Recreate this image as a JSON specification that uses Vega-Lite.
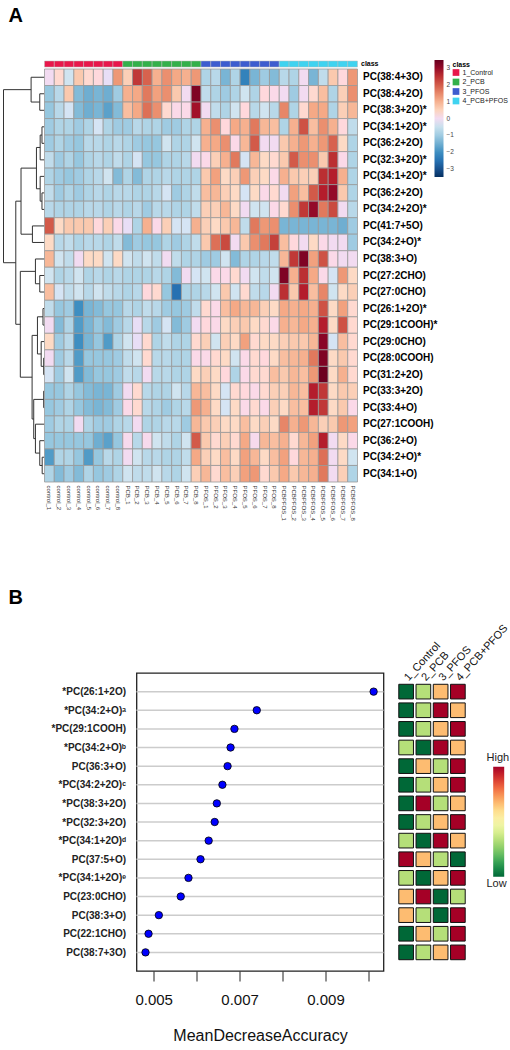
{
"$schema": "https://vega.github.io/schema/vega-lite/v6.json",
"background": "white",
"padding": {"left": 2.5, "top": 6, "right": 0, "bottom": 0},
"config": {"font": "Liberation Sans", "view": {"stroke": null}},
"bounds": "flush",
"spacing": 612,
"resolve": {"scale": {"color": "independent"}, "legend": {"color": "independent"}},
"datasets": {
"dendro": [
{"h1":4.7,"h2":4.7,"y1":1,"y2":2},{"h1":0,"h2":4.7,"y1":1,"y2":1},{"h1":0,"h2":4.7,"y1":2,"y2":2},
{"h1":13.3,"h2":13.3,"y1":0,"y2":1.5},{"h1":0,"h2":13.3,"y1":0,"y2":0},{"h1":4.7,"h2":13.3,"y1":1.5,"y2":1.5},
{"h1":2.5,"h2":2.5,"y1":3,"y2":4},{"h1":0,"h2":2.5,"y1":3,"y2":3},{"h1":0,"h2":2.5,"y1":4,"y2":4},
{"h1":4.3,"h2":4.3,"y1":3.5,"y2":5},{"h1":2.5,"h2":4.3,"y1":3.5,"y2":3.5},{"h1":0,"h2":4.3,"y1":5,"y2":5},
{"h1":2.5,"h2":2.5,"y1":7,"y2":8},{"h1":0,"h2":2.5,"y1":7,"y2":7},{"h1":0,"h2":2.5,"y1":8,"y2":8},
{"h1":4.3,"h2":4.3,"y1":6,"y2":7.5},{"h1":0,"h2":4.3,"y1":6,"y2":6},{"h1":2.5,"h2":4.3,"y1":7.5,"y2":7.5},
{"h1":8,"h2":8,"y1":4.25,"y2":6.75},{"h1":4.3,"h2":8,"y1":4.25,"y2":4.25},{"h1":4.3,"h2":8,"y1":6.75,"y2":6.75},
{"h1":12,"h2":12,"y1":9,"y2":10},{"h1":0,"h2":12,"y1":9,"y2":9},{"h1":0,"h2":12,"y1":10,"y2":10},
{"h1":23.3,"h2":23.3,"y1":5.5,"y2":9.5},{"h1":8,"h2":23.3,"y1":5.5,"y2":5.5},{"h1":12,"h2":23.3,"y1":9.5,"y2":9.5},
{"h1":4.7,"h2":4.7,"y1":12,"y2":13},{"h1":0,"h2":4.7,"y1":12,"y2":12},{"h1":0,"h2":4.7,"y1":13,"y2":13},
{"h1":9,"h2":9,"y1":11,"y2":12.5},{"h1":0,"h2":9,"y1":11,"y2":11},{"h1":4.7,"h2":9,"y1":12.5,"y2":12.5},
{"h1":1.5,"h2":1.5,"y1":14,"y2":15},{"h1":0,"h2":1.5,"y1":14,"y2":14},{"h1":0,"h2":1.5,"y1":15,"y2":15},
{"h1":0.8,"h2":0.8,"y1":17,"y2":18},{"h1":0,"h2":0.8,"y1":17,"y2":17},{"h1":0,"h2":0.8,"y1":18,"y2":18},
{"h1":3.3,"h2":3.3,"y1":16,"y2":17.5},{"h1":0,"h2":3.3,"y1":16,"y2":16},{"h1":0.8,"h2":3.3,"y1":17.5,"y2":17.5},
{"h1":7,"h2":7,"y1":14.5,"y2":16.75},{"h1":1.5,"h2":7,"y1":14.5,"y2":14.5},{"h1":3.3,"h2":7,"y1":16.75,"y2":16.75},
{"h1":0.8,"h2":0.8,"y1":19,"y2":20},{"h1":0,"h2":0.8,"y1":19,"y2":19},{"h1":0,"h2":0.8,"y1":20,"y2":20},
{"h1":2.3,"h2":2.3,"y1":23,"y2":24},{"h1":0,"h2":2.3,"y1":23,"y2":23},{"h1":0,"h2":2.3,"y1":24,"y2":24},
{"h1":4.7,"h2":4.7,"y1":22,"y2":23.5},{"h1":0,"h2":4.7,"y1":22,"y2":22},{"h1":2.3,"h2":4.7,"y1":23.5,"y2":23.5},
{"h1":9,"h2":9,"y1":21,"y2":22.75},{"h1":0,"h2":9,"y1":21,"y2":21},{"h1":4.7,"h2":9,"y1":22.75,"y2":22.75},
{"h1":10.7,"h2":10.7,"y1":19.5,"y2":21.875},{"h1":0.8,"h2":10.7,"y1":19.5,"y2":19.5},{"h1":9,"h2":10.7,"y1":21.875,"y2":21.875},
{"h1":12.3,"h2":12.3,"y1":15.625,"y2":20.6875},{"h1":7,"h2":12.3,"y1":15.625,"y2":15.625},{"h1":10.7,"h2":12.3,"y1":20.6875,"y2":20.6875},
{"h1":24,"h2":24,"y1":11.75,"y2":18.156},{"h1":9,"h2":24,"y1":11.75,"y2":11.75},{"h1":12.3,"h2":24,"y1":18.156,"y2":18.156},
{"h1":28.5,"h2":28.5,"y1":7.5,"y2":14.953},{"h1":23.3,"h2":28.5,"y1":7.5,"y2":7.5},{"h1":24,"h2":28.5,"y1":14.953,"y2":14.953},
{"h1":40.7,"h2":40.7,"y1":0.75,"y2":11.227},{"h1":13.3,"h2":40.7,"y1":0.75,"y2":0.75},{"h1":28.5,"h2":40.7,"y1":11.227,"y2":11.227}
],
"cls": [
{"s":"control_1","c":"1_Control","k":"class"},{"s":"control_2","c":"1_Control","k":"class"},{"s":"control_3","c":"1_Control","k":"class"},{"s":"control_4","c":"1_Control","k":"class"},{"s":"control_5","c":"1_Control","k":"class"},{"s":"control_6","c":"1_Control","k":"class"},{"s":"control_7","c":"1_Control","k":"class"},{"s":"control_8","c":"1_Control","k":"class"},
{"s":"PCB_1","c":"2_PCB","k":"class"},{"s":"PCB_2","c":"2_PCB","k":"class"},{"s":"PCB_3","c":"2_PCB","k":"class"},{"s":"PCB_4","c":"2_PCB","k":"class"},{"s":"PCB_5","c":"2_PCB","k":"class"},{"s":"PCB_6","c":"2_PCB","k":"class"},{"s":"PCB_7","c":"2_PCB","k":"class"},{"s":"PCB_8","c":"2_PCB","k":"class"},
{"s":"PFOS_1","c":"3_PFOS","k":"class"},{"s":"PFOS_2","c":"3_PFOS","k":"class"},{"s":"PFOS_3","c":"3_PFOS","k":"class"},{"s":"PFOS_4","c":"3_PFOS","k":"class"},{"s":"PFOS_5","c":"3_PFOS","k":"class"},{"s":"PFOS_6","c":"3_PFOS","k":"class"},{"s":"PFOS_7","c":"3_PFOS","k":"class"},{"s":"PFOS_8","c":"3_PFOS","k":"class"},
{"s":"PCBPFOS_1","c":"4_PCB+PFOS","k":"class"},{"s":"PCBPFOS_2","c":"4_PCB+PFOS","k":"class"},{"s":"PCBPFOS_3","c":"4_PCB+PFOS","k":"class"},{"s":"PCBPFOS_4","c":"4_PCB+PFOS","k":"class"},{"s":"PCBPFOS_5","c":"4_PCB+PFOS","k":"class"},{"s":"PCBPFOS_6","c":"4_PCB+PFOS","k":"class"},{"s":"PCBPFOS_7","c":"4_PCB+PFOS","k":"class"},{"s":"PCBPFOS_8","c":"4_PCB+PFOS","k":"class"}
],
"hm": [
{"r":0,"s":"control_1","v":0},{"r":0,"s":"control_2","v":0.3},{"r":0,"s":"control_3","v":-0.4},{"r":0,"s":"control_4","v":0.65},{"r":0,"s":"control_5","v":0.3},{"r":0,"s":"control_6","v":0.2},{"r":0,"s":"control_7","v":-0.1},{"r":0,"s":"control_8","v":1.3},{"r":0,"s":"PCB_1","v":0.55},{"r":0,"s":"PCB_2","v":2.4},{"r":0,"s":"PCB_3","v":1.9},{"r":0,"s":"PCB_4","v":1.0},{"r":0,"s":"PCB_5","v":1.4},{"r":0,"s":"PCB_6","v":1.1},{"r":0,"s":"PCB_7","v":1.0},{"r":0,"s":"PCB_8","v":1.3},{"r":0,"s":"PFOS_1","v":-0.8},{"r":0,"s":"PFOS_2","v":-0.7},{"r":0,"s":"PFOS_3","v":-1.4},{"r":0,"s":"PFOS_4","v":-0.8},{"r":0,"s":"PFOS_5","v":-2.2},{"r":0,"s":"PFOS_6","v":-1.4},{"r":0,"s":"PFOS_7","v":-1.0},{"r":0,"s":"PFOS_8","v":-1.3},{"r":0,"s":"PCBPFOS_1","v":-0.7},{"r":0,"s":"PCBPFOS_2","v":-0.8},{"r":0,"s":"PCBPFOS_3","v":0},{"r":0,"s":"PCBPFOS_4","v":-1.4},{"r":0,"s":"PCBPFOS_5","v":-0.6},{"r":0,"s":"PCBPFOS_6","v":0.65},{"r":0,"s":"PCBPFOS_7","v":0.2},{"r":0,"s":"PCBPFOS_8","v":1.3},
{"r":1,"s":"control_1","v":-1.1},{"r":1,"s":"control_2","v":-0.7},{"r":1,"s":"control_3","v":0.65},{"r":1,"s":"control_4","v":-1.3},{"r":1,"s":"control_5","v":-1.5},{"r":1,"s":"control_6","v":-1.4},{"r":1,"s":"control_7","v":-1.5},{"r":1,"s":"control_8","v":-1.0},{"r":1,"s":"PCB_1","v":1.0},{"r":1,"s":"PCB_2","v":1.1},{"r":1,"s":"PCB_3","v":1.65},{"r":1,"s":"PCB_4","v":1.2},{"r":1,"s":"PCB_5","v":1.4},{"r":1,"s":"PCB_6","v":0.65},{"r":1,"s":"PCB_7","v":0},{"r":1,"s":"PCB_8","v":3.2},{"r":1,"s":"PFOS_1","v":-0.6},{"r":1,"s":"PFOS_2","v":-0.8},{"r":1,"s":"PFOS_3","v":-1.0},{"r":1,"s":"PFOS_4","v":-0.8},{"r":1,"s":"PFOS_5","v":-0.4},{"r":1,"s":"PFOS_6","v":-0.8},{"r":1,"s":"PFOS_7","v":0.2},{"r":1,"s":"PFOS_8","v":0.1},{"r":1,"s":"PCBPFOS_1","v":0},{"r":1,"s":"PCBPFOS_2","v":-1.0},{"r":1,"s":"PCBPFOS_3","v":0},{"r":1,"s":"PCBPFOS_4","v":0.3},{"r":1,"s":"PCBPFOS_5","v":0.8},{"r":1,"s":"PCBPFOS_6","v":-0.8},{"r":1,"s":"PCBPFOS_7","v":0.55},{"r":1,"s":"PCBPFOS_8","v":1.4},
{"r":2,"s":"control_1","v":-1.1},{"r":2,"s":"control_2","v":-0.7},{"r":2,"s":"control_3","v":-0.3},{"r":2,"s":"control_4","v":-1.3},{"r":2,"s":"control_5","v":-1.5},{"r":2,"s":"control_6","v":-1.4},{"r":2,"s":"control_7","v":-1.7},{"r":2,"s":"control_8","v":-1.3},{"r":2,"s":"PCB_1","v":0.8},{"r":2,"s":"PCB_2","v":1.1},{"r":2,"s":"PCB_3","v":1.75},{"r":2,"s":"PCB_4","v":1.4},{"r":2,"s":"PCB_5","v":0.3},{"r":2,"s":"PCB_6","v":0.1},{"r":2,"s":"PCB_7","v":0.1},{"r":2,"s":"PCB_8","v":2.85},{"r":2,"s":"PFOS_1","v":0},{"r":2,"s":"PFOS_2","v":-0.6},{"r":2,"s":"PFOS_3","v":-0.8},{"r":2,"s":"PFOS_4","v":-0.4},{"r":2,"s":"PFOS_5","v":0.2},{"r":2,"s":"PFOS_6","v":-0.7},{"r":2,"s":"PFOS_7","v":-0.4},{"r":2,"s":"PFOS_8","v":-0.7},{"r":2,"s":"PCBPFOS_1","v":1.5},{"r":2,"s":"PCBPFOS_2","v":-0.8},{"r":2,"s":"PCBPFOS_3","v":0.3},{"r":2,"s":"PCBPFOS_4","v":1.1},{"r":2,"s":"PCBPFOS_5","v":1.1},{"r":2,"s":"PCBPFOS_6","v":-0.8},{"r":2,"s":"PCBPFOS_7","v":0.55},{"r":2,"s":"PCBPFOS_8","v":0.9},
{"r":3,"s":"control_1","v":-1.0},{"r":3,"s":"control_2","v":-0.8},{"r":3,"s":"control_3","v":-0.8},{"r":3,"s":"control_4","v":-1.0},{"r":3,"s":"control_5","v":-0.8},{"r":3,"s":"control_6","v":-0.3},{"r":3,"s":"control_7","v":-0.8},{"r":3,"s":"control_8","v":-1.0},{"r":3,"s":"PCB_1","v":-1.0},{"r":3,"s":"PCB_2","v":-0.7},{"r":3,"s":"PCB_3","v":-0.8},{"r":3,"s":"PCB_4","v":-0.8},{"r":3,"s":"PCB_5","v":-1.0},{"r":3,"s":"PCB_6","v":-1.0},{"r":3,"s":"PCB_7","v":-0.8},{"r":3,"s":"PCB_8","v":-0.8},{"r":3,"s":"PFOS_1","v":1.0},{"r":3,"s":"PFOS_2","v":1.4},{"r":3,"s":"PFOS_3","v":0.2},{"r":3,"s":"PFOS_4","v":1.1},{"r":3,"s":"PFOS_5","v":1.0},{"r":3,"s":"PFOS_6","v":1.65},{"r":3,"s":"PFOS_7","v":0.9},{"r":3,"s":"PFOS_8","v":0.8},{"r":3,"s":"PCBPFOS_1","v":-0.8},{"r":3,"s":"PCBPFOS_2","v":1.0},{"r":3,"s":"PCBPFOS_3","v":2.1},{"r":3,"s":"PCBPFOS_4","v":0.8},{"r":3,"s":"PCBPFOS_5","v":1.4},{"r":3,"s":"PCBPFOS_6","v":1.0},{"r":3,"s":"PCBPFOS_7","v":0.2},{"r":3,"s":"PCBPFOS_8","v":-0.6},
{"r":4,"s":"control_1","v":-1.0},{"r":4,"s":"control_2","v":-0.8},{"r":4,"s":"control_3","v":-1.0},{"r":4,"s":"control_4","v":-1.1},{"r":4,"s":"control_5","v":-0.7},{"r":4,"s":"control_6","v":-0.7},{"r":4,"s":"control_7","v":-0.8},{"r":4,"s":"control_8","v":-0.7},{"r":4,"s":"PCB_1","v":-0.8},{"r":4,"s":"PCB_2","v":-1.0},{"r":4,"s":"PCB_3","v":-1.1},{"r":4,"s":"PCB_4","v":-1.1},{"r":4,"s":"PCB_5","v":-0.4},{"r":4,"s":"PCB_6","v":-0.8},{"r":4,"s":"PCB_7","v":-0.8},{"r":4,"s":"PCB_8","v":-0.4},{"r":4,"s":"PFOS_1","v":1.0},{"r":4,"s":"PFOS_2","v":1.1},{"r":4,"s":"PFOS_3","v":1.4},{"r":4,"s":"PFOS_4","v":0.1},{"r":4,"s":"PFOS_5","v":0.9},{"r":4,"s":"PFOS_6","v":2.0},{"r":4,"s":"PFOS_7","v":0},{"r":4,"s":"PFOS_8","v":0},{"r":4,"s":"PCBPFOS_1","v":0.65},{"r":4,"s":"PCBPFOS_2","v":1.0},{"r":4,"s":"PCBPFOS_3","v":1.3},{"r":4,"s":"PCBPFOS_4","v":1.0},{"r":4,"s":"PCBPFOS_5","v":1.3},{"r":4,"s":"PCBPFOS_6","v":1.9},{"r":4,"s":"PCBPFOS_7","v":0.4},{"r":4,"s":"PCBPFOS_8","v":-0.8},
{"r":5,"s":"control_1","v":-0.6},{"r":5,"s":"control_2","v":-1.0},{"r":5,"s":"control_3","v":-0.8},{"r":5,"s":"control_4","v":-1.1},{"r":5,"s":"control_5","v":-0.8},{"r":5,"s":"control_6","v":-0.7},{"r":5,"s":"control_7","v":-0.8},{"r":5,"s":"control_8","v":-0.6},{"r":5,"s":"PCB_1","v":-0.8},{"r":5,"s":"PCB_2","v":-0.3},{"r":5,"s":"PCB_3","v":-1.1},{"r":5,"s":"PCB_4","v":-1.1},{"r":5,"s":"PCB_5","v":-0.8},{"r":5,"s":"PCB_6","v":-0.8},{"r":5,"s":"PCB_7","v":-0.7},{"r":5,"s":"PCB_8","v":0},{"r":5,"s":"PFOS_1","v":0.1},{"r":5,"s":"PFOS_2","v":0.55},{"r":5,"s":"PFOS_3","v":1.0},{"r":5,"s":"PFOS_4","v":1.65},{"r":5,"s":"PFOS_5","v":-0.3},{"r":5,"s":"PFOS_6","v":0.9},{"r":5,"s":"PFOS_7","v":0.4},{"r":5,"s":"PFOS_8","v":0.3},{"r":5,"s":"PCBPFOS_1","v":0.65},{"r":5,"s":"PCBPFOS_2","v":2.0},{"r":5,"s":"PCBPFOS_3","v":1.4},{"r":5,"s":"PCBPFOS_4","v":1.4},{"r":5,"s":"PCBPFOS_5","v":0.65},{"r":5,"s":"PCBPFOS_6","v":2.5},{"r":5,"s":"PCBPFOS_7","v":0.1},{"r":5,"s":"PCBPFOS_8","v":-0.8},
{"r":6,"s":"control_1","v":-0.8},{"r":6,"s":"control_2","v":-1.0},{"r":6,"s":"control_3","v":-1.1},{"r":6,"s":"control_4","v":-1.0},{"r":6,"s":"control_5","v":-0.8},{"r":6,"s":"control_6","v":-0.7},{"r":6,"s":"control_7","v":-0.4},{"r":6,"s":"control_8","v":-1.3},{"r":6,"s":"PCB_1","v":-0.8},{"r":6,"s":"PCB_2","v":-1.3},{"r":6,"s":"PCB_3","v":-0.8},{"r":6,"s":"PCB_4","v":-0.8},{"r":6,"s":"PCB_5","v":-0.7},{"r":6,"s":"PCB_6","v":-0.8},{"r":6,"s":"PCB_7","v":-0.8},{"r":6,"s":"PCB_8","v":-0.8},{"r":6,"s":"PFOS_1","v":0.65},{"r":6,"s":"PFOS_2","v":1.2},{"r":6,"s":"PFOS_3","v":0.4},{"r":6,"s":"PFOS_4","v":0.55},{"r":6,"s":"PFOS_5","v":1.3},{"r":6,"s":"PFOS_6","v":0.55},{"r":6,"s":"PFOS_7","v":0.4},{"r":6,"s":"PFOS_8","v":0.1},{"r":6,"s":"PCBPFOS_1","v":1.0},{"r":6,"s":"PCBPFOS_2","v":0.65},{"r":6,"s":"PCBPFOS_3","v":0.55},{"r":6,"s":"PCBPFOS_4","v":0.55},{"r":6,"s":"PCBPFOS_5","v":2.5},{"r":6,"s":"PCBPFOS_6","v":2.65},{"r":6,"s":"PCBPFOS_7","v":1.0},{"r":6,"s":"PCBPFOS_8","v":-0.8},
{"r":7,"s":"control_1","v":-0.6},{"r":7,"s":"control_2","v":-1.0},{"r":7,"s":"control_3","v":-0.8},{"r":7,"s":"control_4","v":-1.0},{"r":7,"s":"control_5","v":-0.8},{"r":7,"s":"control_6","v":-0.7},{"r":7,"s":"control_7","v":-0.8},{"r":7,"s":"control_8","v":-0.7},{"r":7,"s":"PCB_1","v":-0.7},{"r":7,"s":"PCB_2","v":-0.8},{"r":7,"s":"PCB_3","v":-0.8},{"r":7,"s":"PCB_4","v":-0.7},{"r":7,"s":"PCB_5","v":-0.3},{"r":7,"s":"PCB_6","v":-1.0},{"r":7,"s":"PCB_7","v":-0.8},{"r":7,"s":"PCB_8","v":-0.6},{"r":7,"s":"PFOS_1","v":0.8},{"r":7,"s":"PFOS_2","v":0.9},{"r":7,"s":"PFOS_3","v":0.55},{"r":7,"s":"PFOS_4","v":0.4},{"r":7,"s":"PFOS_5","v":-0.3},{"r":7,"s":"PFOS_6","v":0.4},{"r":7,"s":"PFOS_7","v":0.1},{"r":7,"s":"PFOS_8","v":0.3},{"r":7,"s":"PCBPFOS_1","v":0},{"r":7,"s":"PCBPFOS_2","v":1.2},{"r":7,"s":"PCBPFOS_3","v":0.8},{"r":7,"s":"PCBPFOS_4","v":2.0},{"r":7,"s":"PCBPFOS_5","v":2.65},{"r":7,"s":"PCBPFOS_6","v":3.0},{"r":7,"s":"PCBPFOS_7","v":0.65},{"r":7,"s":"PCBPFOS_8","v":-0.8},
{"r":8,"s":"control_1","v":-0.7},{"r":8,"s":"control_2","v":-0.8},{"r":8,"s":"control_3","v":-0.8},{"r":8,"s":"control_4","v":-0.8},{"r":8,"s":"control_5","v":-0.7},{"r":8,"s":"control_6","v":-0.7},{"r":8,"s":"control_7","v":-0.8},{"r":8,"s":"control_8","v":-0.7},{"r":8,"s":"PCB_1","v":-0.8},{"r":8,"s":"PCB_2","v":-0.7},{"r":8,"s":"PCB_3","v":-1.0},{"r":8,"s":"PCB_4","v":-0.7},{"r":8,"s":"PCB_5","v":-0.7},{"r":8,"s":"PCB_6","v":-0.8},{"r":8,"s":"PCB_7","v":-0.8},{"r":8,"s":"PCB_8","v":-0.6},{"r":8,"s":"PFOS_1","v":0.55},{"r":8,"s":"PFOS_2","v":0.55},{"r":8,"s":"PFOS_3","v":0.9},{"r":8,"s":"PFOS_4","v":0.4},{"r":8,"s":"PFOS_5","v":0},{"r":8,"s":"PFOS_6","v":-0.4},{"r":8,"s":"PFOS_7","v":-0.4},{"r":8,"s":"PFOS_8","v":0.1},{"r":8,"s":"PCBPFOS_1","v":0.3},{"r":8,"s":"PCBPFOS_2","v":1.4},{"r":8,"s":"PCBPFOS_3","v":2.4},{"r":8,"s":"PCBPFOS_4","v":3.0},{"r":8,"s":"PCBPFOS_5","v":1.65},{"r":8,"s":"PCBPFOS_6","v":2.2},{"r":8,"s":"PCBPFOS_7","v":0},{"r":8,"s":"PCBPFOS_8","v":-0.7},
{"r":9,"s":"control_1","v":2.0},{"r":9,"s":"control_2","v":0.4},{"r":9,"s":"control_3","v":0.65},{"r":9,"s":"control_4","v":0.65},{"r":9,"s":"control_5","v":0.65},{"r":9,"s":"control_6","v":0.2},{"r":9,"s":"control_7","v":0.55},{"r":9,"s":"control_8","v":0.1},{"r":9,"s":"PCB_1","v":-0.1},{"r":9,"s":"PCB_2","v":-0.8},{"r":9,"s":"PCB_3","v":1.0},{"r":9,"s":"PCB_4","v":0.1},{"r":9,"s":"PCB_5","v":0.55},{"r":9,"s":"PCB_6","v":-0.3},{"r":9,"s":"PCB_7","v":-0.3},{"r":9,"s":"PCB_8","v":1.0},{"r":9,"s":"PFOS_1","v":0.55},{"r":9,"s":"PFOS_2","v":0.4},{"r":9,"s":"PFOS_3","v":0.65},{"r":9,"s":"PFOS_4","v":0.9},{"r":9,"s":"PFOS_5","v":-0.6},{"r":9,"s":"PFOS_6","v":1.65},{"r":9,"s":"PFOS_7","v":1.3},{"r":9,"s":"PFOS_8","v":1.4},{"r":9,"s":"PCBPFOS_1","v":-1.4},{"r":9,"s":"PCBPFOS_2","v":-1.4},{"r":9,"s":"PCBPFOS_3","v":-1.4},{"r":9,"s":"PCBPFOS_4","v":-1.4},{"r":9,"s":"PCBPFOS_5","v":-1.4},{"r":9,"s":"PCBPFOS_6","v":-1.4},{"r":9,"s":"PCBPFOS_7","v":-1.5},{"r":9,"s":"PCBPFOS_8","v":-1.0},
{"r":10,"s":"control_1","v":0.4},{"r":10,"s":"control_2","v":-0.7},{"r":10,"s":"control_3","v":-0.6},{"r":10,"s":"control_4","v":-0.8},{"r":10,"s":"control_5","v":-0.7},{"r":10,"s":"control_6","v":-0.7},{"r":10,"s":"control_7","v":-0.8},{"r":10,"s":"control_8","v":-0.6},{"r":10,"s":"PCB_1","v":-1.3},{"r":10,"s":"PCB_2","v":-1.0},{"r":10,"s":"PCB_3","v":-1.1},{"r":10,"s":"PCB_4","v":-1.1},{"r":10,"s":"PCB_5","v":-0.8},{"r":10,"s":"PCB_6","v":-1.0},{"r":10,"s":"PCB_7","v":-0.8},{"r":10,"s":"PCB_8","v":-0.6},{"r":10,"s":"PFOS_1","v":0.65},{"r":10,"s":"PFOS_2","v":1.75},{"r":10,"s":"PFOS_3","v":2.2},{"r":10,"s":"PFOS_4","v":0},{"r":10,"s":"PFOS_5","v":0.65},{"r":10,"s":"PFOS_6","v":1.4},{"r":10,"s":"PFOS_7","v":1.65},{"r":10,"s":"PFOS_8","v":2.3},{"r":10,"s":"PCBPFOS_1","v":0.8},{"r":10,"s":"PCBPFOS_2","v":0.2},{"r":10,"s":"PCBPFOS_3","v":0},{"r":10,"s":"PCBPFOS_4","v":0.4},{"r":10,"s":"PCBPFOS_5","v":0.1},{"r":10,"s":"PCBPFOS_6","v":0},{"r":10,"s":"PCBPFOS_7","v":0},{"r":10,"s":"PCBPFOS_8","v":-1.0},
{"r":11,"s":"control_1","v":0.9},{"r":11,"s":"control_2","v":-0.4},{"r":11,"s":"control_3","v":-0.6},{"r":11,"s":"control_4","v":0},{"r":11,"s":"control_5","v":0.4},{"r":11,"s":"control_6","v":0.4},{"r":11,"s":"control_7","v":-0.4},{"r":11,"s":"control_8","v":0.4},{"r":11,"s":"PCB_1","v":-0.4},{"r":11,"s":"PCB_2","v":-0.6},{"r":11,"s":"PCB_3","v":-0.4},{"r":11,"s":"PCB_4","v":-0.6},{"r":11,"s":"PCB_5","v":0},{"r":11,"s":"PCB_6","v":-0.6},{"r":11,"s":"PCB_7","v":-0.8},{"r":11,"s":"PCB_8","v":-0.8},{"r":11,"s":"PFOS_1","v":-1.0},{"r":11,"s":"PFOS_2","v":-1.0},{"r":11,"s":"PFOS_3","v":-0.4},{"r":11,"s":"PFOS_4","v":-1.3},{"r":11,"s":"PFOS_5","v":-0.8},{"r":11,"s":"PFOS_6","v":-0.8},{"r":11,"s":"PFOS_7","v":-0.7},{"r":11,"s":"PFOS_8","v":-0.6},{"r":11,"s":"PCBPFOS_1","v":0.9},{"r":11,"s":"PCBPFOS_2","v":2.4},{"r":11,"s":"PCBPFOS_3","v":3.2},{"r":11,"s":"PCBPFOS_4","v":1.2},{"r":11,"s":"PCBPFOS_5","v":2.1},{"r":11,"s":"PCBPFOS_6","v":0.1},{"r":11,"s":"PCBPFOS_7","v":0},{"r":11,"s":"PCBPFOS_8","v":0},
{"r":12,"s":"control_1","v":-0.4},{"r":12,"s":"control_2","v":-0.8},{"r":12,"s":"control_3","v":-0.7},{"r":12,"s":"control_4","v":-0.4},{"r":12,"s":"control_5","v":-0.8},{"r":12,"s":"control_6","v":-0.7},{"r":12,"s":"control_7","v":-0.8},{"r":12,"s":"control_8","v":-0.7},{"r":12,"s":"PCB_1","v":-0.8},{"r":12,"s":"PCB_2","v":-0.8},{"r":12,"s":"PCB_3","v":-0.8},{"r":12,"s":"PCB_4","v":-0.7},{"r":12,"s":"PCB_5","v":-0.8},{"r":12,"s":"PCB_6","v":-1.3},{"r":12,"s":"PCB_7","v":0},{"r":12,"s":"PCB_8","v":-0.3},{"r":12,"s":"PFOS_1","v":-0.4},{"r":12,"s":"PFOS_2","v":0.1},{"r":12,"s":"PFOS_3","v":0.1},{"r":12,"s":"PFOS_4","v":0.3},{"r":12,"s":"PFOS_5","v":0},{"r":12,"s":"PFOS_6","v":-0.4},{"r":12,"s":"PFOS_7","v":-0.6},{"r":12,"s":"PFOS_8","v":-0.4},{"r":12,"s":"PCBPFOS_1","v":3.2},{"r":12,"s":"PCBPFOS_2","v":1.0},{"r":12,"s":"PCBPFOS_3","v":2.5},{"r":12,"s":"PCBPFOS_4","v":1.1},{"r":12,"s":"PCBPFOS_5","v":0.1},{"r":12,"s":"PCBPFOS_6","v":-0.3},{"r":12,"s":"PCBPFOS_7","v":1.3},{"r":12,"s":"PCBPFOS_8","v":0.4},
{"r":13,"s":"control_1","v":0.8},{"r":13,"s":"control_2","v":-0.3},{"r":13,"s":"control_3","v":-0.6},{"r":13,"s":"control_4","v":-0.4},{"r":13,"s":"control_5","v":-0.7},{"r":13,"s":"control_6","v":-0.4},{"r":13,"s":"control_7","v":-0.6},{"r":13,"s":"control_8","v":-0.7},{"r":13,"s":"PCB_1","v":-0.8},{"r":13,"s":"PCB_2","v":-0.7},{"r":13,"s":"PCB_3","v":0.2},{"r":13,"s":"PCB_4","v":0.3},{"r":13,"s":"PCB_5","v":-1.1},{"r":13,"s":"PCB_6","v":-2.5},{"r":13,"s":"PCB_7","v":-0.8},{"r":13,"s":"PCB_8","v":-0.8},{"r":13,"s":"PFOS_1","v":-0.7},{"r":13,"s":"PFOS_2","v":-0.4},{"r":13,"s":"PFOS_3","v":0.65},{"r":13,"s":"PFOS_4","v":-0.4},{"r":13,"s":"PFOS_5","v":0.3},{"r":13,"s":"PFOS_6","v":-0.6},{"r":13,"s":"PFOS_7","v":-0.7},{"r":13,"s":"PFOS_8","v":0},{"r":13,"s":"PCBPFOS_1","v":2.5},{"r":13,"s":"PCBPFOS_2","v":0.65},{"r":13,"s":"PCBPFOS_3","v":2.65},{"r":13,"s":"PCBPFOS_4","v":0.8},{"r":13,"s":"PCBPFOS_5","v":1.5},{"r":13,"s":"PCBPFOS_6","v":-0.4},{"r":13,"s":"PCBPFOS_7","v":0.4},{"r":13,"s":"PCBPFOS_8","v":0.55},
{"r":14,"s":"control_1","v":-0.6},{"r":14,"s":"control_2","v":-1.1},{"r":14,"s":"control_3","v":-1.0},{"r":14,"s":"control_4","v":-2.0},{"r":14,"s":"control_5","v":-1.4},{"r":14,"s":"control_6","v":-1.3},{"r":14,"s":"control_7","v":-1.1},{"r":14,"s":"control_8","v":-1.1},{"r":14,"s":"PCB_1","v":-0.7},{"r":14,"s":"PCB_2","v":-0.8},{"r":14,"s":"PCB_3","v":-0.6},{"r":14,"s":"PCB_4","v":-0.7},{"r":14,"s":"PCB_5","v":-1.0},{"r":14,"s":"PCB_6","v":-1.1},{"r":14,"s":"PCB_7","v":-1.0},{"r":14,"s":"PCB_8","v":-0.6},{"r":14,"s":"PFOS_1","v":0.3},{"r":14,"s":"PFOS_2","v":0.1},{"r":14,"s":"PFOS_3","v":0.8},{"r":14,"s":"PFOS_4","v":1.1},{"r":14,"s":"PFOS_5","v":0.9},{"r":14,"s":"PFOS_6","v":0.9},{"r":14,"s":"PFOS_7","v":0.55},{"r":14,"s":"PFOS_8","v":0.4},{"r":14,"s":"PCBPFOS_1","v":1.1},{"r":14,"s":"PCBPFOS_2","v":1.0},{"r":14,"s":"PCBPFOS_3","v":1.1},{"r":14,"s":"PCBPFOS_4","v":1.0},{"r":14,"s":"PCBPFOS_5","v":2.1},{"r":14,"s":"PCBPFOS_6","v":0.4},{"r":14,"s":"PCBPFOS_7","v":1.2},{"r":14,"s":"PCBPFOS_8","v":0.3},
{"r":15,"s":"control_1","v":0},{"r":15,"s":"control_2","v":-1.3},{"r":15,"s":"control_3","v":-0.8},{"r":15,"s":"control_4","v":-1.8},{"r":15,"s":"control_5","v":-1.4},{"r":15,"s":"control_6","v":-1.1},{"r":15,"s":"control_7","v":-1.3},{"r":15,"s":"control_8","v":-1.0},{"r":15,"s":"PCB_1","v":-0.7},{"r":15,"s":"PCB_2","v":-0.1},{"r":15,"s":"PCB_3","v":-0.7},{"r":15,"s":"PCB_4","v":-1.0},{"r":15,"s":"PCB_5","v":-0.3},{"r":15,"s":"PCB_6","v":-1.3},{"r":15,"s":"PCB_7","v":-1.0},{"r":15,"s":"PCB_8","v":0},{"r":15,"s":"PFOS_1","v":0.2},{"r":15,"s":"PFOS_2","v":0.1},{"r":15,"s":"PFOS_3","v":0.4},{"r":15,"s":"PFOS_4","v":0.55},{"r":15,"s":"PFOS_5","v":0.65},{"r":15,"s":"PFOS_6","v":0.4},{"r":15,"s":"PFOS_7","v":0.3},{"r":15,"s":"PFOS_8","v":0.1},{"r":15,"s":"PCBPFOS_1","v":1.0},{"r":15,"s":"PCBPFOS_2","v":0.9},{"r":15,"s":"PCBPFOS_3","v":1.1},{"r":15,"s":"PCBPFOS_4","v":1.0},{"r":15,"s":"PCBPFOS_5","v":2.65},{"r":15,"s":"PCBPFOS_6","v":0.4},{"r":15,"s":"PCBPFOS_7","v":2.1},{"r":15,"s":"PCBPFOS_8","v":0.3},
{"r":16,"s":"control_1","v":0.4},{"r":16,"s":"control_2","v":-1.0},{"r":16,"s":"control_3","v":-0.7},{"r":16,"s":"control_4","v":-2.0},{"r":16,"s":"control_5","v":-1.4},{"r":16,"s":"control_6","v":-1.1},{"r":16,"s":"control_7","v":-1.8},{"r":16,"s":"control_8","v":-0.8},{"r":16,"s":"PCB_1","v":-0.4},{"r":16,"s":"PCB_2","v":-0.1},{"r":16,"s":"PCB_3","v":0.3},{"r":16,"s":"PCB_4","v":-0.8},{"r":16,"s":"PCB_5","v":-0.6},{"r":16,"s":"PCB_6","v":-0.8},{"r":16,"s":"PCB_7","v":-0.8},{"r":16,"s":"PCB_8","v":0.3},{"r":16,"s":"PFOS_1","v":0.55},{"r":16,"s":"PFOS_2","v":-0.4},{"r":16,"s":"PFOS_3","v":0.55},{"r":16,"s":"PFOS_4","v":0.4},{"r":16,"s":"PFOS_5","v":1.2},{"r":16,"s":"PFOS_6","v":0.3},{"r":16,"s":"PFOS_7","v":0.4},{"r":16,"s":"PFOS_8","v":0.4},{"r":16,"s":"PCBPFOS_1","v":0.55},{"r":16,"s":"PCBPFOS_2","v":0.65},{"r":16,"s":"PCBPFOS_3","v":0.65},{"r":16,"s":"PCBPFOS_4","v":0.9},{"r":16,"s":"PCBPFOS_5","v":3.1},{"r":16,"s":"PCBPFOS_6","v":-0.3},{"r":16,"s":"PCBPFOS_7","v":0.8},{"r":16,"s":"PCBPFOS_8","v":0.3},
{"r":17,"s":"control_1","v":0},{"r":17,"s":"control_2","v":-1.0},{"r":17,"s":"control_3","v":-0.7},{"r":17,"s":"control_4","v":-1.8},{"r":17,"s":"control_5","v":-1.1},{"r":17,"s":"control_6","v":-1.1},{"r":17,"s":"control_7","v":-1.1},{"r":17,"s":"control_8","v":-1.0},{"r":17,"s":"PCB_1","v":-0.6},{"r":17,"s":"PCB_2","v":-0.4},{"r":17,"s":"PCB_3","v":0.3},{"r":17,"s":"PCB_4","v":-0.7},{"r":17,"s":"PCB_5","v":-0.7},{"r":17,"s":"PCB_6","v":-0.8},{"r":17,"s":"PCB_7","v":-0.8},{"r":17,"s":"PCB_8","v":0.1},{"r":17,"s":"PFOS_1","v":0.1},{"r":17,"s":"PFOS_2","v":0.3},{"r":17,"s":"PFOS_3","v":0.4},{"r":17,"s":"PFOS_4","v":-0.4},{"r":17,"s":"PFOS_5","v":0.1},{"r":17,"s":"PFOS_6","v":0.3},{"r":17,"s":"PFOS_7","v":0.2},{"r":17,"s":"PFOS_8","v":0.4},{"r":17,"s":"PCBPFOS_1","v":0.8},{"r":17,"s":"PCBPFOS_2","v":0.9},{"r":17,"s":"PCBPFOS_3","v":1.0},{"r":17,"s":"PCBPFOS_4","v":1.65},{"r":17,"s":"PCBPFOS_5","v":3.2},{"r":17,"s":"PCBPFOS_6","v":0.4},{"r":17,"s":"PCBPFOS_7","v":0.65},{"r":17,"s":"PCBPFOS_8","v":0.3},
{"r":18,"s":"control_1","v":-0.3},{"r":18,"s":"control_2","v":-1.0},{"r":18,"s":"control_3","v":-0.4},{"r":18,"s":"control_4","v":-1.8},{"r":18,"s":"control_5","v":-1.3},{"r":18,"s":"control_6","v":-1.1},{"r":18,"s":"control_7","v":-1.1},{"r":18,"s":"control_8","v":-1.0},{"r":18,"s":"PCB_1","v":-0.6},{"r":18,"s":"PCB_2","v":-0.7},{"r":18,"s":"PCB_3","v":0},{"r":18,"s":"PCB_4","v":-0.7},{"r":18,"s":"PCB_5","v":-0.7},{"r":18,"s":"PCB_6","v":-0.8},{"r":18,"s":"PCB_7","v":-0.8},{"r":18,"s":"PCB_8","v":0.4},{"r":18,"s":"PFOS_1","v":0.55},{"r":18,"s":"PFOS_2","v":0.4},{"r":18,"s":"PFOS_3","v":0.2},{"r":18,"s":"PFOS_4","v":-0.8},{"r":18,"s":"PFOS_5","v":0.1},{"r":18,"s":"PFOS_6","v":0.3},{"r":18,"s":"PFOS_7","v":0.3},{"r":18,"s":"PFOS_8","v":0.8},{"r":18,"s":"PCBPFOS_1","v":0.65},{"r":18,"s":"PCBPFOS_2","v":0.9},{"r":18,"s":"PCBPFOS_3","v":0.8},{"r":18,"s":"PCBPFOS_4","v":1.3},{"r":18,"s":"PCBPFOS_5","v":3.4},{"r":18,"s":"PCBPFOS_6","v":0.4},{"r":18,"s":"PCBPFOS_7","v":1.0},{"r":18,"s":"PCBPFOS_8","v":0.3},
{"r":19,"s":"control_1","v":-1.1},{"r":19,"s":"control_2","v":-1.1},{"r":19,"s":"control_3","v":-0.8},{"r":19,"s":"control_4","v":-1.1},{"r":19,"s":"control_5","v":-1.3},{"r":19,"s":"control_6","v":-1.4},{"r":19,"s":"control_7","v":-1.4},{"r":19,"s":"control_8","v":-1.0},{"r":19,"s":"PCB_1","v":0},{"r":19,"s":"PCB_2","v":0.3},{"r":19,"s":"PCB_3","v":-0.7},{"r":19,"s":"PCB_4","v":-0.8},{"r":19,"s":"PCB_5","v":-0.8},{"r":19,"s":"PCB_6","v":-0.4},{"r":19,"s":"PCB_7","v":-0.7},{"r":19,"s":"PCB_8","v":0.9},{"r":19,"s":"PFOS_1","v":0.8},{"r":19,"s":"PFOS_2","v":0.4},{"r":19,"s":"PFOS_3","v":-0.3},{"r":19,"s":"PFOS_4","v":0.3},{"r":19,"s":"PFOS_5","v":0.2},{"r":19,"s":"PFOS_6","v":0.1},{"r":19,"s":"PFOS_7","v":0.3},{"r":19,"s":"PFOS_8","v":0.55},{"r":19,"s":"PCBPFOS_1","v":0.55},{"r":19,"s":"PCBPFOS_2","v":0.9},{"r":19,"s":"PCBPFOS_3","v":0.8},{"r":19,"s":"PCBPFOS_4","v":2.65},{"r":19,"s":"PCBPFOS_5","v":2.4},{"r":19,"s":"PCBPFOS_6","v":0.4},{"r":19,"s":"PCBPFOS_7","v":0.65},{"r":19,"s":"PCBPFOS_8","v":0.55},
{"r":20,"s":"control_1","v":-1.1},{"r":20,"s":"control_2","v":-1.0},{"r":20,"s":"control_3","v":-0.8},{"r":20,"s":"control_4","v":-1.1},{"r":20,"s":"control_5","v":-1.3},{"r":20,"s":"control_6","v":-1.4},{"r":20,"s":"control_7","v":-1.3},{"r":20,"s":"control_8","v":-1.0},{"r":20,"s":"PCB_1","v":0.1},{"r":20,"s":"PCB_2","v":0.3},{"r":20,"s":"PCB_3","v":-0.7},{"r":20,"s":"PCB_4","v":-0.8},{"r":20,"s":"PCB_5","v":-1.0},{"r":20,"s":"PCB_6","v":-0.8},{"r":20,"s":"PCB_7","v":-0.7},{"r":20,"s":"PCB_8","v":1.3},{"r":20,"s":"PFOS_1","v":1.0},{"r":20,"s":"PFOS_2","v":0.4},{"r":20,"s":"PFOS_3","v":-0.3},{"r":20,"s":"PFOS_4","v":0.4},{"r":20,"s":"PFOS_5","v":0.1},{"r":20,"s":"PFOS_6","v":0.3},{"r":20,"s":"PFOS_7","v":0.1},{"r":20,"s":"PFOS_8","v":0.55},{"r":20,"s":"PCBPFOS_1","v":0.4},{"r":20,"s":"PCBPFOS_2","v":0.8},{"r":20,"s":"PCBPFOS_3","v":0.8},{"r":20,"s":"PCBPFOS_4","v":2.65},{"r":20,"s":"PCBPFOS_5","v":2.4},{"r":20,"s":"PCBPFOS_6","v":0.4},{"r":20,"s":"PCBPFOS_7","v":0.65},{"r":20,"s":"PCBPFOS_8","v":0.1},
{"r":21,"s":"control_1","v":-1.0},{"r":21,"s":"control_2","v":-0.8},{"r":21,"s":"control_3","v":-0.8},{"r":21,"s":"control_4","v":0},{"r":21,"s":"control_5","v":-0.8},{"r":21,"s":"control_6","v":-1.0},{"r":21,"s":"control_7","v":-1.0},{"r":21,"s":"control_8","v":-0.8},{"r":21,"s":"PCB_1","v":-0.7},{"r":21,"s":"PCB_2","v":0},{"r":21,"s":"PCB_3","v":-0.8},{"r":21,"s":"PCB_4","v":-0.8},{"r":21,"s":"PCB_5","v":-0.7},{"r":21,"s":"PCB_6","v":-0.7},{"r":21,"s":"PCB_7","v":-1.0},{"r":21,"s":"PCB_8","v":0.9},{"r":21,"s":"PFOS_1","v":0.65},{"r":21,"s":"PFOS_2","v":0.55},{"r":21,"s":"PFOS_3","v":0.4},{"r":21,"s":"PFOS_4","v":0.4},{"r":21,"s":"PFOS_5","v":0.8},{"r":21,"s":"PFOS_6","v":0.4},{"r":21,"s":"PFOS_7","v":0.55},{"r":21,"s":"PFOS_8","v":0.4},{"r":21,"s":"PCBPFOS_1","v":1.5},{"r":21,"s":"PCBPFOS_2","v":1.0},{"r":21,"s":"PCBPFOS_3","v":1.3},{"r":21,"s":"PCBPFOS_4","v":0.9},{"r":21,"s":"PCBPFOS_5","v":0.55},{"r":21,"s":"PCBPFOS_6","v":0.65},{"r":21,"s":"PCBPFOS_7","v":1.3},{"r":21,"s":"PCBPFOS_8","v":1.2},
{"r":22,"s":"control_1","v":-1.1},{"r":22,"s":"control_2","v":-1.1},{"r":22,"s":"control_3","v":-1.1},{"r":22,"s":"control_4","v":-1.1},{"r":22,"s":"control_5","v":-1.1},{"r":22,"s":"control_6","v":-1.5},{"r":22,"s":"control_7","v":-1.7},{"r":22,"s":"control_8","v":-1.1},{"r":22,"s":"PCB_1","v":0.05},{"r":22,"s":"PCB_2","v":-0.7},{"r":22,"s":"PCB_3","v":0.05},{"r":22,"s":"PCB_4","v":-0.4},{"r":22,"s":"PCB_5","v":-0.6},{"r":22,"s":"PCB_6","v":-0.8},{"r":22,"s":"PCB_7","v":-0.4},{"r":22,"s":"PCB_8","v":2.0},{"r":22,"s":"PFOS_1","v":0.65},{"r":22,"s":"PFOS_2","v":0.3},{"r":22,"s":"PFOS_3","v":0.55},{"r":22,"s":"PFOS_4","v":0.3},{"r":22,"s":"PFOS_5","v":1.1},{"r":22,"s":"PFOS_6","v":0.05},{"r":22,"s":"PFOS_7","v":0.9},{"r":22,"s":"PFOS_8","v":0.8},{"r":22,"s":"PCBPFOS_1","v":1.0},{"r":22,"s":"PCBPFOS_2","v":0.3},{"r":22,"s":"PCBPFOS_3","v":0.9},{"r":22,"s":"PCBPFOS_4","v":1.2},{"r":22,"s":"PCBPFOS_5","v":2.65},{"r":22,"s":"PCBPFOS_6","v":0},{"r":22,"s":"PCBPFOS_7","v":0.4},{"r":22,"s":"PCBPFOS_8","v":0.1},
{"r":23,"s":"control_1","v":-1.8},{"r":23,"s":"control_2","v":-0.8},{"r":23,"s":"control_3","v":-0.8},{"r":23,"s":"control_4","v":-1.1},{"r":23,"s":"control_5","v":-1.8},{"r":23,"s":"control_6","v":-1.1},{"r":23,"s":"control_7","v":-0.7},{"r":23,"s":"control_8","v":-0.8},{"r":23,"s":"PCB_1","v":0},{"r":23,"s":"PCB_2","v":-0.4},{"r":23,"s":"PCB_3","v":-0.7},{"r":23,"s":"PCB_4","v":-0.7},{"r":23,"s":"PCB_5","v":-0.8},{"r":23,"s":"PCB_6","v":-0.8},{"r":23,"s":"PCB_7","v":-0.6},{"r":23,"s":"PCB_8","v":1.1},{"r":23,"s":"PFOS_1","v":0.55},{"r":23,"s":"PFOS_2","v":0.4},{"r":23,"s":"PFOS_3","v":0.8},{"r":23,"s":"PFOS_4","v":0.4},{"r":23,"s":"PFOS_5","v":1.2},{"r":23,"s":"PFOS_6","v":0.9},{"r":23,"s":"PFOS_7","v":0.4},{"r":23,"s":"PFOS_8","v":0.8},{"r":23,"s":"PCBPFOS_1","v":1.2},{"r":23,"s":"PCBPFOS_2","v":0.2},{"r":23,"s":"PCBPFOS_3","v":0.9},{"r":23,"s":"PCBPFOS_4","v":1.0},{"r":23,"s":"PCBPFOS_5","v":1.75},{"r":23,"s":"PCBPFOS_6","v":0},{"r":23,"s":"PCBPFOS_7","v":0.4},{"r":23,"s":"PCBPFOS_8","v":-0.4},
{"r":24,"s":"control_1","v":-0.8},{"r":24,"s":"control_2","v":-1.3},{"r":24,"s":"control_3","v":-1.0},{"r":24,"s":"control_4","v":-1.3},{"r":24,"s":"control_5","v":-0.8},{"r":24,"s":"control_6","v":-1.1},{"r":24,"s":"control_7","v":-1.0},{"r":24,"s":"control_8","v":-0.8},{"r":24,"s":"PCB_1","v":-0.4},{"r":24,"s":"PCB_2","v":-0.6},{"r":24,"s":"PCB_3","v":-0.6},{"r":24,"s":"PCB_4","v":-0.4},{"r":24,"s":"PCB_5","v":-0.7},{"r":24,"s":"PCB_6","v":-0.8},{"r":24,"s":"PCB_7","v":-0.4},{"r":24,"s":"PCB_8","v":0.55},{"r":24,"s":"PFOS_1","v":0.9},{"r":24,"s":"PFOS_2","v":0.3},{"r":24,"s":"PFOS_3","v":0.8},{"r":24,"s":"PFOS_4","v":0.55},{"r":24,"s":"PFOS_5","v":1.2},{"r":24,"s":"PFOS_6","v":1.3},{"r":24,"s":"PFOS_7","v":0.3},{"r":24,"s":"PFOS_8","v":0.65},{"r":24,"s":"PCBPFOS_1","v":1.1},{"r":24,"s":"PCBPFOS_2","v":0.65},{"r":24,"s":"PCBPFOS_3","v":0.9},{"r":24,"s":"PCBPFOS_4","v":1.0},{"r":24,"s":"PCBPFOS_5","v":1.65},{"r":24,"s":"PCBPFOS_6","v":0},{"r":24,"s":"PCBPFOS_7","v":0.55},{"r":24,"s":"PCBPFOS_8","v":-0.8}
],
"imp": [
{"m":"*PC(26:1+2O)","v":0.01012},{"m":"*PC(34:2+O)ᵃ","v":0.0074},{"m":"*PC(29:1COOH)","v":0.00688},{"m":"*PC(34:2+O)ᵇ","v":0.00679},{"m":"PC(36:3+O)","v":0.00672},{"m":"*PC(34:2+2O)ᶜ","v":0.0066},{"m":"*PC(38:3+2O)","v":0.00647},{"m":"*PC(32:3+2O)","v":0.00642},{"m":"*PC(34:1+2O)ᵈ","v":0.00628},{"m":"PC(37:5+O)","v":0.00609},{"m":"*PC(34:1+2O)ᵉ","v":0.00581},{"m":"PC(23:0CHO)","v":0.00563},{"m":"PC(38:3+O)","v":0.00512},{"m":"PC(22:1CHO)","v":0.00488},{"m":"PC(38:7+3O)","v":0.00481}
],
"rank": [
{"m":"*PC(26:1+2O)","g":"1_Control","k":1},{"m":"*PC(26:1+2O)","g":"2_PCB","k":2},{"m":"*PC(26:1+2O)","g":"3_PFOS","k":3},{"m":"*PC(26:1+2O)","g":"4_PCB+PFOS","k":4},
{"m":"*PC(34:2+O)ᵃ","g":"1_Control","k":1},{"m":"*PC(34:2+O)ᵃ","g":"2_PCB","k":2},{"m":"*PC(34:2+O)ᵃ","g":"3_PFOS","k":4},{"m":"*PC(34:2+O)ᵃ","g":"4_PCB+PFOS","k":3},
{"m":"*PC(29:1COOH)","g":"1_Control","k":1},{"m":"*PC(29:1COOH)","g":"2_PCB","k":2},{"m":"*PC(29:1COOH)","g":"3_PFOS","k":3},{"m":"*PC(29:1COOH)","g":"4_PCB+PFOS","k":4},
{"m":"*PC(34:2+O)ᵇ","g":"1_Control","k":2},{"m":"*PC(34:2+O)ᵇ","g":"2_PCB","k":1},{"m":"*PC(34:2+O)ᵇ","g":"3_PFOS","k":4},{"m":"*PC(34:2+O)ᵇ","g":"4_PCB+PFOS","k":3},
{"m":"PC(36:3+O)","g":"1_Control","k":1},{"m":"PC(36:3+O)","g":"2_PCB","k":3},{"m":"PC(36:3+O)","g":"3_PFOS","k":2},{"m":"PC(36:3+O)","g":"4_PCB+PFOS","k":4},
{"m":"*PC(34:2+2O)ᶜ","g":"1_Control","k":1},{"m":"*PC(34:2+2O)ᶜ","g":"2_PCB","k":2},{"m":"*PC(34:2+2O)ᶜ","g":"3_PFOS","k":3},{"m":"*PC(34:2+2O)ᶜ","g":"4_PCB+PFOS","k":4},
{"m":"*PC(38:3+2O)","g":"1_Control","k":1},{"m":"*PC(38:3+2O)","g":"2_PCB","k":4},{"m":"*PC(38:3+2O)","g":"3_PFOS","k":2},{"m":"*PC(38:3+2O)","g":"4_PCB+PFOS","k":3},
{"m":"*PC(32:3+2O)","g":"1_Control","k":1},{"m":"*PC(32:3+2O)","g":"2_PCB","k":2},{"m":"*PC(32:3+2O)","g":"3_PFOS","k":3},{"m":"*PC(32:3+2O)","g":"4_PCB+PFOS","k":4},
{"m":"*PC(34:1+2O)ᵈ","g":"1_Control","k":2},{"m":"*PC(34:1+2O)ᵈ","g":"2_PCB","k":1},{"m":"*PC(34:1+2O)ᵈ","g":"3_PFOS","k":4},{"m":"*PC(34:1+2O)ᵈ","g":"4_PCB+PFOS","k":3},
{"m":"PC(37:5+O)","g":"1_Control","k":4},{"m":"PC(37:5+O)","g":"2_PCB","k":3},{"m":"PC(37:5+O)","g":"3_PFOS","k":2},{"m":"PC(37:5+O)","g":"4_PCB+PFOS","k":1},
{"m":"*PC(34:1+2O)ᵉ","g":"1_Control","k":2},{"m":"*PC(34:1+2O)ᵉ","g":"2_PCB","k":1},{"m":"*PC(34:1+2O)ᵉ","g":"3_PFOS","k":3},{"m":"*PC(34:1+2O)ᵉ","g":"4_PCB+PFOS","k":4},
{"m":"PC(23:0CHO)","g":"1_Control","k":3},{"m":"PC(23:0CHO)","g":"2_PCB","k":4},{"m":"PC(23:0CHO)","g":"3_PFOS","k":1},{"m":"PC(23:0CHO)","g":"4_PCB+PFOS","k":2},
{"m":"PC(38:3+O)","g":"1_Control","k":3},{"m":"PC(38:3+O)","g":"2_PCB","k":2},{"m":"PC(38:3+O)","g":"3_PFOS","k":1},{"m":"PC(38:3+O)","g":"4_PCB+PFOS","k":4},
{"m":"PC(22:1CHO)","g":"1_Control","k":1},{"m":"PC(22:1CHO)","g":"2_PCB","k":3},{"m":"PC(22:1CHO)","g":"3_PFOS","k":2},{"m":"PC(22:1CHO)","g":"4_PCB+PFOS","k":4},
{"m":"PC(38:7+3O)","g":"1_Control","k":1},{"m":"PC(38:7+3O)","g":"2_PCB","k":2},{"m":"PC(38:7+3O)","g":"3_PFOS","k":3},{"m":"PC(38:7+3O)","g":"4_PCB+PFOS","k":4}
]
},
"vconcat": [
{
"bounds": "flush",
"spacing": 0,
"resolve": {"scale": {"color": "independent"}, "legend": {"color": "independent"}},
"hconcat": [
{
"width": 41, "height": 421,
"data": {"name": "dendro"},
"title": {"text": "A", "anchor": "start", "frame": "group", "fontSize": 20, "fontWeight": "bold", "offset": 35, "dx": 5, "color": "#000"},
"mark": {"type": "rule", "color": "#333", "strokeWidth": 1},
"encoding": {
"x": {"field": "h1", "type": "quantitative", "scale": {"domain": [0, 40.7], "reverse": true, "nice": false, "zero": false}, "axis": null},
"x2": {"field": "h2"},
"y": {"field": "y1", "type": "quantitative", "scale": {"domain": [-0.984, 24.5], "reverse": true, "nice": false, "zero": false}, "axis": null},
"y2": {"field": "y2"}
}
},
{
"bounds": "flush",
"spacing": 2,
"resolve": {"scale": {"color": "independent"}, "legend": {"color": "independent"}},
"vconcat": [
{
"width": 313, "height": 6,
"data": {"name": "cls"},
"mark": {"type": "rect", "stroke": "#bbbbbb", "strokeWidth": 0.5},
"encoding": {
"x": {"field": "s", "type": "nominal", "sort": null, "scale": {"paddingInner": 0, "paddingOuter": 0}, "axis": null},
"y": {"field": "k", "type": "nominal", "scale": {"paddingInner": 0, "paddingOuter": 0}, "axis": {"orient": "right", "title": null, "ticks": false, "domain": false, "labelFontSize": 7, "labelFontWeight": "bold", "labelPadding": 3, "labelColor": "#000"}},
"color": {"field": "c", "type": "nominal", "scale": {"domain": ["1_Control", "2_PCB", "3_PFOS", "4_PCB+PFOS"], "range": ["#e8174b", "#33b04a", "#3d5ccf", "#3fd3f0"]},
"legend": {"title": "class", "orient": "none", "legendX": 408, "legendY": 0, "padding": 0, "titleFontSize": 7, "titleFontWeight": "bold", "titlePadding": 1, "labelFontSize": 7, "labelColor": "#222", "symbolType": "square", "symbolSize": 45, "symbolStrokeWidth": 0, "rowPadding": 1.5, "labelOffset": 3}}
}
},
{
"width": 313, "height": 413,
"data": {"name": "hm"},
"mark": {"type": "rect", "stroke": "#999999", "strokeWidth": 0.8},
"encoding": {
"x": {"field": "s", "type": "nominal", "sort": null, "scale": {"paddingInner": 0, "paddingOuter": 0}, "axis": {"orient": "bottom", "title": null, "labelAngle": 90, "labelFontSize": 6, "labelColor": "#333", "ticks": false, "domain": false, "labelPadding": 3}},
"y": {"field": "r", "type": "ordinal", "scale": {"paddingInner": 0, "paddingOuter": 0}, "axis": {"orient": "right", "title": null, "ticks": false, "domain": false, "labelFontSize": 10, "labelFontWeight": "bold", "labelColor": "#000", "labelPadding": 5, "labelExpr": "['PC(38:4+3O)','PC(38:4+2O)','PC(38:3+2O)*','PC(34:1+2O)*','PC(36:2+2O)','PC(32:3+2O)*','PC(34:1+2O)*','PC(36:2+2O)','PC(34:2+2O)*','PC(41:7+5O)','PC(34:2+O)*','PC(38:3+O)','PC(27:2CHO)','PC(27:0CHO)','PC(26:1+2O)*','PC(29:1COOH)*','PC(29:0CHO)','PC(28:0COOH)','PC(31:2+2O)','PC(33:3+2O)','PC(33:4+O)','PC(27:1COOH)','PC(36:2+O)','PC(34:2+O)*','PC(34:1+O)'][datum.value]"}},
"color": {"field": "v", "type": "quantitative",
"scale": {"domain": [-3.45, -2.683, -1.917, -1.15, -0.383, 0.383, 1.15, 1.917, 2.683, 3.45], "range": ["#053061", "#2166ac", "#4393c3", "#92c5de", "#d1e5f0", "#fddbc7", "#f4a582", "#d6604d", "#b2182b", "#67001f"]},
"legend": {"title": null, "orient": "none", "legendX": 390, "legendY": -9, "padding": 0, "direction": "vertical", "gradientLength": 117, "gradientThickness": 9, "gradientStrokeWidth": 0, "values": [3, 2, 1, 0, -1, -2, -3], "labelOverlap": false, "labelFontSize": 6.5, "labelColor": "#444", "labelOffset": 3}}
}
}
]
}
]
},
{
"bounds": "flush",
"spacing": 14,
"resolve": {"scale": {"color": "independent"}, "legend": {"color": "independent"}},
"hconcat": [
{
"width": 119, "height": 298,
"data": {"values": [{"n": 1}]},
"title": {"text": "B", "anchor": "start", "frame": "group", "fontSize": 20, "fontWeight": "bold", "offset": 65, "dx": 5, "color": "#000"},
"mark": {"type": "point", "opacity": 0},
"encoding": {}
},
{
"width": 247, "height": 298,
"data": {"name": "imp"},
"view": {"stroke": "#222", "strokeWidth": 1.3},
"encoding": {
"y": {"field": "m", "type": "nominal", "sort": null, "scale": {"type": "point", "padding": 1}, "axis": {"title": null, "ticks": false, "domain": false, "labelFontSize": 10, "labelFontWeight": "bold", "labelColor": "#222", "labelPadding": 11}}
},
"layer": [
{"mark": {"type": "rule", "color": "#cccccc", "strokeWidth": 1.5}, "encoding": {}},
{"mark": {"type": "circle", "fill": "#0000ff", "stroke": "#000", "strokeWidth": 0.8, "size": 55, "opacity": 1},
"encoding": {"x": {"field": "v", "type": "quantitative", "scale": {"domain": [0.0046, 0.01035], "nice": false, "zero": false},
"axis": {"title": "MeanDecreaseAccuracy", "values": [0.005, 0.006, 0.007, 0.008, 0.009, 0.01], "labelExpr": "(abs(datum.value-0.005)<1e-6 || abs(datum.value-0.007)<1e-6 || abs(datum.value-0.009)<1e-6) ? format(datum.value, '.3f') : ''", "tickSize": 10, "tickColor": "#222", "tickWidth": 1, "domain": false, "grid": false, "labelFontSize": 15, "labelColor": "#111", "labelPadding": 11, "titleFontSize": 16, "titleFontWeight": "normal", "titleColor": "#111", "titlePadding": 20}}}}
]
},
{
"width": 69, "height": 298,
"data": {"name": "rank"},
"mark": {"type": "square", "size": 215, "stroke": "#111", "strokeWidth": 1, "opacity": 1},
"encoding": {
"x": {"field": "g", "type": "nominal", "sort": null, "scale": {"type": "point", "padding": 0.5}, "axis": {"orient": "top", "title": null, "labelAngle": -48, "labelAlign": "left", "labelBaseline": "middle", "ticks": false, "domain": false, "labelFontSize": 11, "labelColor": "#111", "offset": -8, "labelPadding": 2}},
"y": {"field": "m", "type": "nominal", "sort": null, "scale": {"type": "point", "padding": 1}, "axis": null},
"color": {"field": "k", "type": "quantitative", "scale": {"domain": [1, 4], "scheme": "redyellowgreen", "reverse": true},
"legend": {"title": null, "orient": "none", "legendX": 95.7, "legendY": 93.7, "padding": 0, "direction": "vertical", "gradientLength": 110, "gradientThickness": 11, "gradientStrokeWidth": 0, "values": [4], "labelExpr": "''", "labelOffset": -5.5, "labelFontSize": 1}},
"opacity": {"datum": "Low", "type": "nominal", "scale": {"range": [1]},
"legend": {"title": "Low", "titleFontSize": 11, "titleFontWeight": "normal", "titleColor": "#222", "titlePadding": 0, "orient": "none", "legendX": 483, "legendY": 816.5, "padding": 0, "labelExpr": "''", "labelFontSize": 1, "symbolSize": 0, "symbolOpacity": 0, "symbolStrokeWidth": 0}},
"strokeWidth": {"datum": "High", "type": "nominal", "scale": {"range": [1]},
"legend": {"title": "High", "titleFontSize": 11, "titleFontWeight": "normal", "titleColor": "#222", "titlePadding": 0, "orient": "none", "legendX": 483, "legendY": 690.5, "padding": 0, "labelExpr": "''", "labelFontSize": 1, "symbolSize": 0, "symbolOpacity": 0, "symbolStrokeWidth": 0}}
}
}
]
}
]
}
